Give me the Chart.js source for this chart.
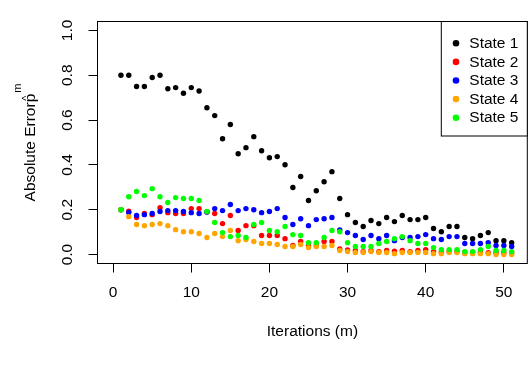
<!DOCTYPE html>
<html>
<head>
<meta charset="utf-8">
<script src="https://cdn.jsdelivr.net/npm/chart.js@4.4.0/dist/chart.umd.min.js"></script>
<style>
  html, body { margin: 0; padding: 0; background: #ffffff; }
</style>
</head>
<body>
<canvas id="errorChart" width="530" height="371"></canvas>
<script>
"use strict";

// x values (iterations)
let iterations = [1, 2, 3, 4, 5, 6, 7, 8, 9, 10, 11, 12, 13, 14, 15, 16, 17, 18, 19, 20,
  21, 22, 23, 24, 25, 26, 27, 28, 29, 30, 31, 32, 33, 34, 35, 36, 37, 38, 39, 40,
  41, 42, 43, 44, 45, 46, 47, 48, 49, 50, 51];

let stateNames = ["State 1", "State 2", "State 3", "State 4", "State 5"];
let stateColors = ["#000000", "#ff0000", "#0000ff", "#ffa500", "#00ff00"];

let state1 = [0.80, 0.80, 0.75, 0.75, 0.79, 0.80, 0.74, 0.745, 0.72, 0.745,
  0.73, 0.655, 0.62, 0.517, 0.58, 0.45, 0.477, 0.526, 0.463, 0.432,
  0.437, 0.401, 0.299, 0.348, 0.241, 0.285, 0.325, 0.37, 0.25, 0.178,
  0.143, 0.125, 0.152, 0.138, 0.165, 0.147, 0.174, 0.156, 0.156, 0.165,
  0.116, 0.102, 0.125, 0.125, 0.076, 0.071, 0.085, 0.098, 0.062, 0.062, 0.053];

let state2 = [0.20, 0.193, 0.165, 0.183, 0.178, 0.209, 0.187, 0.183, 0.183, 0.205,
  0.205, 0.19, 0.183, 0.138, 0.174, 0.107, 0.129, 0.129, 0.085, 0.085,
  0.085, 0.071, 0.040, 0.058, 0.04, 0.04, 0.058, 0.058, 0.025, 0.02,
  0.018, 0.013, 0.018, 0.013, 0.018, 0.015, 0.018, 0.013, 0.018, 0.022,
  0.013, 0.01, 0.013, 0.013, 0.01, 0.01, 0.01, 0.008, 0.008, 0.008, 0.008];

let state3 = [0.20, 0.188, 0.174, 0.178, 0.183, 0.192, 0.196, 0.196, 0.192, 0.187,
  0.183, 0.19, 0.205, 0.196, 0.223, 0.196, 0.205, 0.200, 0.187, 0.192,
  0.205, 0.165, 0.134, 0.160, 0.129, 0.156, 0.160, 0.165, 0.11, 0.098,
  0.085, 0.067, 0.085, 0.071, 0.085, 0.062, 0.076, 0.076, 0.080, 0.089,
  0.071, 0.067, 0.080, 0.080, 0.049, 0.049, 0.049, 0.053, 0.040, 0.040, 0.036];

let state4 = [0.20, 0.169, 0.134, 0.129, 0.134, 0.138, 0.129, 0.111, 0.102, 0.102,
  0.094, 0.076, 0.094, 0.080, 0.107, 0.062, 0.067, 0.058, 0.049, 0.049,
  0.045, 0.036, 0.036, 0.045, 0.031, 0.036, 0.036, 0.040, 0.018, 0.013,
  0.009, 0.009, 0.013, 0.009, 0.009, 0.004, 0.009, 0.009, 0.009, 0.009,
  0.004, 0.004, 0.009, 0.009, 0.004, 0.004, 0.004, 0.004, 0.0, 0.0, 0.0];

let state5 = [0.20, 0.258, 0.281, 0.263, 0.294, 0.258, 0.232, 0.254, 0.25, 0.25,
  0.241, 0.192, 0.143, 0.098, 0.080, 0.085, 0.076, 0.134, 0.143, 0.107,
  0.102, 0.125, 0.089, 0.085, 0.053, 0.053, 0.076, 0.107, 0.102, 0.053,
  0.036, 0.036, 0.036, 0.049, 0.058, 0.071, 0.080, 0.062, 0.049, 0.049,
  0.031, 0.022, 0.022, 0.022, 0.013, 0.013, 0.022, 0.036, 0.018, 0.018, 0.013];

let xTickValues = [0, 10, 20, 30, 40, 50];
let yTickValues = [0.0, 0.2, 0.4, 0.6, 0.8, 1.0];

let allStates = [state1, state2, state3, state4, state5];

let fontFamily = "'Liberation Sans', Arial, sans-serif";
let fontSize = 15.5;

function makePoints(values) {
  let points = [];
  for (let i = 0; i < iterations.length; i++) {
    points.push({ x: iterations[i], y: values[i] });
  }
  return points;
}

let datasets = [];
for (let i = 0; i < allStates.length; i++) {
  datasets.push({
    label: stateNames[i],
    data: makePoints(allStates[i]),
    backgroundColor: stateColors[i],
    borderColor: stateColors[i],
    borderWidth: 0,
    pointRadius: 2.7,
    pointHoverRadius: 2.7,
    showLine: false,
    order: allStates.length - i // later states drawn on top, like R
  });
}

// frame around the plot region
let boxPlugin = {
  id: "plotBox",
  afterDraw(chart) {
    let ctx = chart.ctx;
    let a = chart.chartArea;
    ctx.save();
    ctx.strokeStyle = "#000";
    ctx.lineWidth = 1;
    ctx.strokeRect(a.left, a.top, a.right - a.left, a.bottom - a.top);
    ctx.restore();
  }
};

// legend box in the top right corner
let legendPlugin = {
  id: "boxLegend",
  afterDraw(chart) {
    let ctx = chart.ctx;
    let a = chart.chartArea;
    let boxW = 86;
    let boxH = 114.5;
    let left = a.right - boxW;
    ctx.save();
    ctx.fillStyle = "#fff";
    ctx.fillRect(left, a.top, boxW, boxH);
    ctx.strokeStyle = "#000";
    ctx.lineWidth = 1;
    ctx.strokeRect(left, a.top, boxW, boxH);
    ctx.font = fontSize + "px " + fontFamily;
    ctx.textBaseline = "middle";
    ctx.textAlign = "left";
    chart.data.datasets.forEach(function (ds, i) {
      let y = a.top + 21.8 + i * 18.6;
      ctx.fillStyle = ds.backgroundColor;
      ctx.beginPath();
      ctx.arc(left + 14.7, y, 3.3, 0, Math.PI * 2);
      ctx.fill();
      ctx.fillStyle = "#000";
      ctx.fillText(ds.label, left + 28, y + 0.5);
    });
    ctx.restore();
  }
};

// y axis title with the p-hat^m expression
let yTitlePlugin = {
  id: "yTitle",
  afterDraw(chart) {
    let ctx = chart.ctx;
    let a = chart.chartArea;
    let mid = (a.top + a.bottom) / 2;
    ctx.save();
    ctx.font = fontSize + "px " + fontFamily;
    let main = "Absolute Error";
    let wMain = ctx.measureText(main).width;
    let wP = ctx.measureText("p").width;
    ctx.font = "11px " + fontFamily;
    let wM = ctx.measureText("m").width;
    let total = wMain + wP + 1 + wM;
    ctx.translate(34.5, mid + total / 2);
    ctx.rotate(-Math.PI / 2);
    ctx.fillStyle = "#000";
    ctx.textBaseline = "alphabetic";
    ctx.textAlign = "left";
    ctx.font = fontSize + "px " + fontFamily;
    ctx.fillText(main, 0, 0);
    ctx.fillText("p", wMain, 0);
    ctx.font = "11px " + fontFamily;
    ctx.textAlign = "center";
    ctx.fillText("^", wMain + wP / 2, -5);
    ctx.textAlign = "left";
    ctx.fillText("m", wMain + wP + 1, -14);
    ctx.restore();
  }
};

let ctx = document.getElementById("errorChart");
let chart = new Chart(ctx, {
  type: "scatter",
  data: { datasets: datasets },
  options: {
    responsive: false,
    animation: false,
    devicePixelRatio: 1,
    layout: { padding: { left: 0, top: 21.5, right: 2.5, bottom: 0 } },
    plugins: {
      legend: { display: false },
      tooltip: { enabled: false }
    },
    scales: {
      x: {
        type: "linear",
        min: -2,
        max: 53,
        afterBuildTicks(scale) {
          scale.ticks = xTickValues.map(v => ({ value: v }));
        },
        afterFit(scale) {
          scale.height = 107.5;
        },
        ticks: {
          color: "#000",
          padding: 11,
          maxRotation: 0,
          font: { family: fontFamily, size: fontSize },
          callback: v => String(v)
        },
        grid: { drawOnChartArea: false, tickLength: 9, color: "#000" },
        border: { display: false },
        title: {
          display: true,
          text: "Iterations (m)",
          color: "#000",
          font: { family: fontFamily, size: fontSize },
          padding: { top: 0, bottom: 30 }
        }
      },
      y: {
        type: "linear",
        min: -0.04,
        max: 1.04,
        afterBuildTicks(scale) {
          scale.ticks = yTickValues.map(v => ({ value: v }));
        },
        afterFit(scale) {
          scale.width = 97.5;
        },
        ticks: {
          color: "#000",
          padding: 10,
          minRotation: 90,
          maxRotation: 90,
          crossAlign: "center",
          font: { family: fontFamily, size: fontSize },
          callback: v => v.toFixed(1)
        },
        grid: { drawOnChartArea: false, tickLength: 9, color: "#000" },
        border: { display: false }
      }
    }
  },
  plugins: [boxPlugin, legendPlugin, yTitlePlugin]
});
</script>
</body>
</html>
